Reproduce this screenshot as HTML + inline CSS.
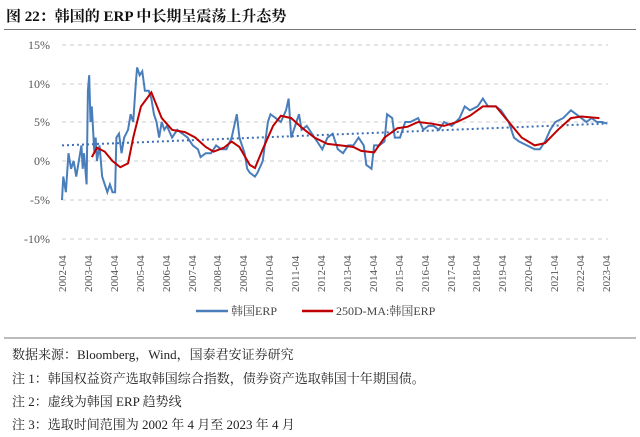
<!DOCTYPE html>
<html><head><meta charset="utf-8"><style>
body{margin:0;background:#fff;width:640px;height:437px;overflow:hidden;font-family:"Liberation Serif","Noto Serif CJK SC",serif;}
.t{position:absolute;left:6px;top:5px;font-size:15px;font-weight:bold;color:#111;font-family:"Liberation Serif","Noto Serif CJK SC",serif;}
.f{position:absolute;left:12px;font-size:13px;color:#222;}
</style></head><body>
<div class="t">图 22：韩国的 ERP 中长期呈震荡上升态势</div>
<div style="position:absolute;left:4px;top:29px;width:632px;border-top:1px solid #777"></div>
<svg width="640" height="437" style="position:absolute;left:0;top:0" font-family="Liberation Serif, serif">
<g stroke="#ccc" stroke-dasharray="4,4" stroke-width="1">
<line x1="62" x2="608" y1="45" y2="45"/><line x1="62" x2="608" y1="84" y2="84"/><line x1="62" x2="608" y1="122" y2="122"/><line x1="62" x2="608" y1="161" y2="161"/><line x1="62" x2="608" y1="200" y2="200"/><line x1="62" x2="608" y1="239" y2="239"/>
</g>
<g font-size="12" fill="#555" text-anchor="end">
<text x="50" y="49">15%</text><text x="50" y="88">10%</text><text x="50" y="126">5%</text><text x="50" y="165">0%</text><text x="50" y="204">-5%</text><text x="50" y="243">-10%</text>
</g>
<g font-size="11" fill="#555" id="xl"></g>
<g transform="translate(62,161) scale(25.9,-7.8) translate(-2002.25,0)" fill="none">
<polyline vector-effect="non-scaling-stroke" stroke="#4a7ebb" stroke-width="2" points="2002.25,-5 2002.3,-2 2002.4,-4 2002.5,1 2002.6,-1 2002.7,0 2002.8,-2 2002.9,0 2003.0,2 2003.05,-1 2003.1,1 2003.2,-3 2003.25,9 2003.3,11 2003.35,5 2003.4,7 2003.5,1 2003.55,3 2003.6,0 2003.7,2 2003.8,-2 2003.9,-3 2004.0,-4 2004.1,-3 2004.2,-4 2004.3,-4 2004.35,3 2004.45,3.5 2004.55,1 2004.65,3 2004.8,4 2004.9,6 2005.0,5 2005.1,10 2005.15,12 2005.25,11 2005.35,11.5 2005.45,9 2005.6,9 2005.7,8 2005.8,6 2005.9,5 2006.0,3 2006.1,5 2006.2,4 2006.3,4.5 2006.5,3 2006.7,4 2006.9,3.5 2007.1,3 2007.3,2 2007.5,1.5 2007.6,0.5 2007.8,1 2008.0,1 2008.2,2 2008.4,1.5 2008.6,1.5 2008.8,3 2009.0,6 2009.1,3 2009.2,2 2009.3,1 2009.4,-1 2009.5,-1.5 2009.7,-2 2009.8,-1.5 2010.0,0 2010.2,5 2010.3,6 2010.5,5.5 2010.7,5 2010.9,6.5 2011.0,8 2011.1,3 2011.3,5 2011.4,6 2011.5,4 2011.7,4.5 2011.9,3.5 2012.1,2.5 2012.3,1.5 2012.5,3 2012.7,3.5 2012.9,1.5 2013.1,1 2013.3,2 2013.5,2 2013.7,3 2013.9,2 2014.0,-0.5 2014.2,-1 2014.3,2 2014.5,2 2014.7,2.5 2014.8,6 2015.0,5.5 2015.1,3 2015.3,3 2015.5,5 2015.7,5 2016.0,5.5 2016.2,4 2016.4,4.5 2016.6,4.5 2016.8,4 2017.0,5 2017.3,4.5 2017.6,5.5 2017.8,7 2018.0,6.5 2018.3,7 2018.5,8 2018.7,7 2019.0,7 2019.2,6.5 2019.5,5 2019.7,3 2019.9,2.5 2020.2,2 2020.5,1.5 2020.7,1.5 2020.9,2.5 2021.1,4 2021.3,5 2021.6,5.5 2021.9,6.5 2022.1,6 2022.3,5.5 2022.5,5 2022.7,5.5 2022.9,5 2023.1,5 2023.3,4.8"/>
<polyline vector-effect="non-scaling-stroke" stroke="#3b6fb8" stroke-width="2" stroke-dasharray="2,3" points="2002.25,2 2023.3,4.8"/>
<polyline vector-effect="non-scaling-stroke" stroke="#c00000" stroke-width="2" points="2003.4,0.5 2003.6,1.7 2003.9,1.2 2004.2,0 2004.5,-0.8 2004.8,-0.3 2005.0,3 2005.3,7 2005.7,8.8 2006.1,5.5 2006.5,4 2007.0,3.7 2007.4,3 2007.8,1.8 2008.1,1.2 2008.5,1.7 2008.8,2.5 2009.1,1.8 2009.5,-0.5 2009.7,-0.9 2010.0,1.5 2010.4,4.5 2010.7,5.8 2011.1,5.5 2011.5,4.3 2012.0,3 2012.5,2.2 2013.0,2 2013.5,1.8 2013.8,1.3 2014.3,1.1 2014.7,3 2015.2,4.2 2015.6,4.4 2016.0,5 2016.5,4.8 2017.0,4.5 2017.5,5 2018.0,5.8 2018.5,7 2019.0,7 2019.5,5 2020.0,3 2020.5,2 2020.9,2.3 2021.4,4 2021.9,5.5 2022.3,5.7 2023.0,5.5"/>
</g>
<g font-size="11" fill="#555">
<text transform="translate(66,292) rotate(-90)">2002-04</text>
<text transform="translate(92,292) rotate(-90)">2003-04</text>
<text transform="translate(118,292) rotate(-90)">2004-04</text>
<text transform="translate(144,292) rotate(-90)">2005-04</text>
<text transform="translate(170,292) rotate(-90)">2006-04</text>
<text transform="translate(196,292) rotate(-90)">2007-04</text>
<text transform="translate(221,292) rotate(-90)">2008-04</text>
<text transform="translate(247,292) rotate(-90)">2009-04</text>
<text transform="translate(273,292) rotate(-90)">2010-04</text>
<text transform="translate(299,292) rotate(-90)">2011-04</text>
<text transform="translate(325,292) rotate(-90)">2012-04</text>
<text transform="translate(351,292) rotate(-90)">2013-04</text>
<text transform="translate(377,292) rotate(-90)">2014-04</text>
<text transform="translate(403,292) rotate(-90)">2015-04</text>
<text transform="translate(429,292) rotate(-90)">2016-04</text>
<text transform="translate(455,292) rotate(-90)">2017-04</text>
<text transform="translate(480,292) rotate(-90)">2018-04</text>
<text transform="translate(506,292) rotate(-90)">2019-04</text>
<text transform="translate(532,292) rotate(-90)">2020-04</text>
<text transform="translate(558,292) rotate(-90)">2021-04</text>
<text transform="translate(584,292) rotate(-90)">2022-04</text>
<text transform="translate(610,292) rotate(-90)">2023-04</text>
</g>
<line x1="196" x2="228" y1="311" y2="311" stroke="#4a7ebb" stroke-width="2.5"/>
<text x="231" y="315" font-size="12" fill="#444" font-family="Liberation Serif, Noto Serif CJK SC, serif">韩国ERP</text>
<line x1="302" x2="333" y1="311" y2="311" stroke="#c00000" stroke-width="2.5"/>
<text x="336" y="315" font-size="12" fill="#444" font-family="Liberation Serif, Noto Serif CJK SC, serif">250D-MA:韩国ERP</text>
<line x1="4" x2="636" y1="338" y2="338" stroke="#777" stroke-width="1"/>
</svg>
<div class="f" style="top:344px">数据来源：Bloomberg，Wind，国泰君安证券研究</div>
<div class="f" style="top:368px">注 1：韩国权益资产选取韩国综合指数，债券资产选取韩国十年期国债。</div>
<div class="f" style="top:391px">注 2：虚线为韩国 ERP 趋势线</div>
<div class="f" style="top:414px">注 3：选取时间范围为 2002 年 4 月至 2023 年 4 月</div>
</body></html>
